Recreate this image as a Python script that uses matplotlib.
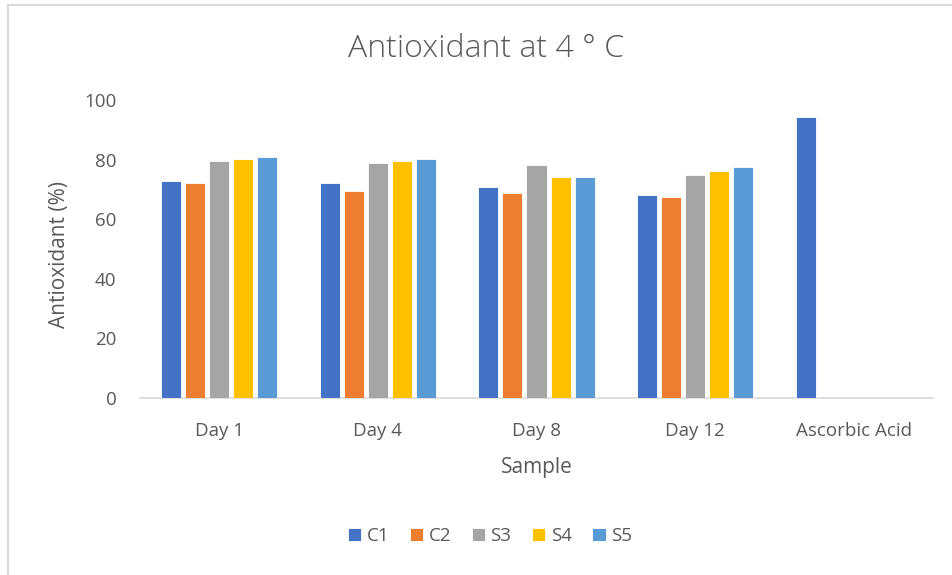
import matplotlib
matplotlib.use("Agg")
import matplotlib.pyplot as plt
from matplotlib.lines import Line2D
import numpy as np

categories = ["Day 1", "Day 4", "Day 8", "Day 12", "Ascorbic Acid"]
series_names = ["C1", "C2", "S3", "S4", "S5"]
C1 = [72.7, 72.1, 70.8, 68.2, 94.2]
C2 = [72.1, 69.5, 68.9, 67.4, None]
S3 = [79.5, 78.9, 78.2, 74.9, None]
S4 = [80.1, 79.6, 74.2, 76.2, None]
S5 = [80.8, 80.1, 74.2, 77.5, None]
series = [C1, C2, S3, S4, S5]
colors = ["#4472C4", "#ED7D31", "#A5A5A5", "#FFC000", "#5B9BD5"]

plt.rcParams['font.family'] = ['Open Sans', 'DejaVu Sans']

W, H = 952, 575
fig = plt.figure(figsize=(W / 100, H / 100), dpi=100)
fig.patch.set_facecolor("white")

# axes placement in pixels
x0, x1 = 140, 933
y0, y1 = 398, 100  # y pixel of 0 and 100
ax = fig.add_axes([x0 / W, 1 - y0 / H, (x1 - x0) / W, (y0 - y1) / H])

n = len(categories)
pitch = 24 / 158.5
width = 20 / 158.5
xs = np.arange(n)
for i, (name, vals, c) in enumerate(zip(series_names, series, colors)):
    offs = (i - 2) * pitch
    px = [x + offs for x, v in zip(xs, vals) if v is not None]
    pv = [v for v in vals if v is not None]
    ax.bar(px, pv, width=width, color=c, edgecolor="white", linewidth=0.6,
           label=name, zorder=3)

ax.set_xlim(-0.5, n - 0.5)
ax.set_ylim(0, 100)
ax.set_yticks([0, 20, 40, 60, 80, 100])
ax.set_xticks(xs)
ax.set_xticklabels(categories)
for s in ["top", "right", "left"]:
    ax.spines[s].set_visible(False)
ax.spines["bottom"].set_color("#D9D9D9")
ax.spines["bottom"].set_linewidth(1.2)
ax.tick_params(axis="both", length=0, labelsize=13.5, colors="#595959")
ax.tick_params(axis="y", pad=17)
ax.tick_params(axis="x", pad=17)

ax.set_ylabel("Antioxidant (%)", fontsize=15, color="#595959")
ax.yaxis.label.set_va("center")
ax.yaxis.set_label_coords((60 - x0) / (x1 - x0), 0.48)
ax.set_xlabel("Sample", fontsize=15, color="#595959")
ax.xaxis.label.set_va("center")
ax.xaxis.set_label_coords(0.5, -(467 - y0) / (y0 - y1))

fig.text(486 / W, 1 - 49 / H, "Antioxidant at 4 ° C", ha="center", va="center",
         fontsize=23, color="#595959", fontweight="light")

leg = fig.legend(loc="center", bbox_to_anchor=(490 / W, 1 - 536 / H), ncol=5,
                 frameon=False, fontsize=13.5, handlelength=0.7, handleheight=0.7,
                 handletextpad=0.3, columnspacing=1.1)
for t in leg.get_texts():
    t.set_color("#595959")

# chart frame lines (left and top)
fig.add_artist(Line2D([7.5 / W, 7.5 / W], [0, 1 - 4.5 / H], color="#D9D9D9", lw=1.5,
                      transform=fig.transFigure))
fig.add_artist(Line2D([7.5 / W, 1], [1 - 4.5 / H, 1 - 4.5 / H], color="#D9D9D9", lw=1.5,
                      transform=fig.transFigure))

fig.savefig("out.png", dpi=100, facecolor="white")
